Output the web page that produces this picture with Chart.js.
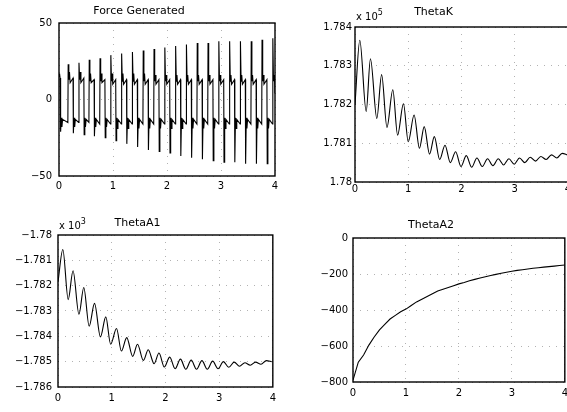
<!DOCTYPE html>
<html>
<head>
<meta charset="utf-8">
<script src="https://cdn.jsdelivr.net/npm/chart.js@4.4.0/dist/chart.umd.min.js"></script>
<style>
  body { margin: 0; background: #fff; overflow: hidden; }
  #wrap { position: relative; width: 567px; height: 412px; overflow: hidden; }
  canvas { position: absolute; }
  .expo { position: absolute; font: 10px "DejaVu Sans", sans-serif; color: #000; white-space: nowrap; }
  .expo sup { font-size: 8px; position: relative; top: -1px; }
</style>
</head>
<body>
<div id="wrap">
  <canvas id="force" width="280" height="199" style="left:3px;top:1px"></canvas>
  <canvas id="thetaK" width="277" height="201" style="left:299px;top:5px"></canvas>
  <canvas id="thetaA1" width="279" height="198" style="left:2px;top:213px"></canvas>
  <canvas id="thetaA2" width="276" height="190" style="left:297px;top:216px"></canvas>
  <div class="expo" style="left:356px;top:9px">x 10<sup>5</sup></div>
  <div class="expo" style="left:59px;top:218px">x 10<sup>3</sup></div>
</div>
<script>
// tick labels
const xTicks = [0, 1, 2, 3, 4];
const forceTicks = [-50, 0, 50];
const thetaKTicks = [1.78, 1.781, 1.782, 1.783, 1.784];
const thetaA1Ticks = [-1.786, -1.785, -1.784, -1.783, -1.782, -1.781, -1.78];
const thetaA2Ticks = [-800, -600, -400, -200, 0];

// Force Generated (one row per cycle)
const forceT = [
  0, 0.01, 0.02, 0.03, 0.042, 0.054, 0.066, 0.164,
  0.17, 0.182, 0.194, 0.206, 0.26, 0.266, 0.278, 0.29, 0.302, 0.364,
  0.37, 0.382, 0.394, 0.406, 0.46, 0.466, 0.478, 0.49, 0.502, 0.554,
  0.56, 0.572, 0.584, 0.596, 0.65, 0.656, 0.668, 0.68, 0.692, 0.754,
  0.76, 0.772, 0.784, 0.796, 0.85, 0.856, 0.868, 0.88, 0.892, 0.954,
  0.96, 0.972, 0.984, 0.996, 1.05, 1.056, 1.068, 1.08, 1.092, 1.154,
  1.16, 1.172, 1.184, 1.196, 1.25, 1.256, 1.268, 1.28, 1.292, 1.354,
  1.36, 1.372, 1.384, 1.396, 1.45, 1.456, 1.468, 1.48, 1.492, 1.554,
  1.56, 1.572, 1.584, 1.596, 1.65, 1.656, 1.668, 1.68, 1.692, 1.754,
  1.76, 1.772, 1.784, 1.796, 1.85, 1.856, 1.868, 1.88, 1.892, 1.954,
  1.96, 1.972, 1.984, 1.996, 2.05, 2.056, 2.068, 2.08, 2.092, 2.154,
  2.16, 2.172, 2.184, 2.196, 2.25, 2.256, 2.268, 2.28, 2.292, 2.354,
  2.36, 2.372, 2.384, 2.396, 2.45, 2.456, 2.468, 2.48, 2.492, 2.554,
  2.56, 2.572, 2.584, 2.596, 2.65, 2.656, 2.668, 2.68, 2.692, 2.754,
  2.76, 2.772, 2.784, 2.796, 2.85, 2.856, 2.868, 2.88, 2.892, 2.954,
  2.96, 2.972, 2.984, 2.996, 3.05, 3.056, 3.068, 3.08, 3.092, 3.154,
  3.16, 3.172, 3.184, 3.196, 3.25, 3.256, 3.268, 3.28, 3.292, 3.354,
  3.36, 3.372, 3.384, 3.396, 3.45, 3.456, 3.468, 3.48, 3.492, 3.554,
  3.56, 3.572, 3.584, 3.596, 3.65, 3.656, 3.668, 3.68, 3.692, 3.754,
  3.76, 3.772, 3.784, 3.796, 3.85, 3.856, 3.868, 3.88, 3.892, 3.954,
  3.96, 3.972, 3.984, 3.996, 4.0
];
const forceV = [
  15, 17, 14, -21, -12, -18, -13, -15,
  23, 13, 18, 11, 14, -22, -12, -18, -13, -15,
  24, 13, 18, 11, 14, -23, -12, -18, -13, -15,
  26, 12, 17, 11, 13, -24, -12, -18, -13, -16,
  27, 12, 17, 11, 13, -25, -12, -18, -13, -16,
  29, 12, 17, 10, 13, -27, -12, -19, -13, -16,
  30, 12, 17, 10, 13, -29, -12, -19, -13, -16,
  31, 12, 17, 10, 13, -31, -12, -19, -13, -16,
  32, 12, 17, 10, 13, -33, -12, -19, -13, -16,
  33, 12, 16, 10, 13, -34, -12, -19, -13, -16,
  34, 12, 16, 10, 13, -35, -12, -19, -13, -16,
  35, 12, 16, 10, 13, -37, -12, -19, -13, -16,
  36, 12, 16, 10, 13, -38, -12, -19, -13, -16,
  37, 12, 16, 10, 13, -39, -12, -19, -13, -16,
  37, 12, 16, 10, 13, -40, -12, -19, -13, -16,
  38, 12, 16, 10, 13, -41, -12, -19, -13, -16,
  38, 12, 16, 10, 13, -41, -12, -19, -13, -16,
  38, 12, 16, 10, 13, -42, -12, -19, -13, -16,
  38, 12, 16, 10, 13, -42, -12, -19, -13, -16,
  39, 12, 16, 10, 13, -42, -12, -19, -13, -16,
  40, 12, 16, 10, 4
];

// ThetaK (x 10^5), turning points
const thetaKT = [0, 0.09, 0.21, 0.29, 0.41, 0.5, 0.6, 0.71, 0.8, 0.91, 1.0, 1.11, 1.21, 1.3, 1.4,
  1.49, 1.59, 1.69, 1.79, 1.89, 1.99, 2.09, 2.19, 2.29, 2.39, 2.49, 2.59, 2.69, 2.79, 2.89,
  2.99, 3.09, 3.19, 3.29, 3.39, 3.49, 3.59, 3.69, 3.79, 3.89, 3.99];
const thetaKV = [1.7820, 1.78366, 1.78182, 1.78318, 1.78164, 1.78277, 1.78141, 1.78238, 1.78121,
  1.78202, 1.78104, 1.78173, 1.78087, 1.78143, 1.78072, 1.78117, 1.78058, 1.78095, 1.7805,
  1.78078, 1.7804, 1.78068, 1.78038, 1.78062, 1.7804, 1.7806, 1.78042, 1.7806, 1.78044,
  1.7806, 1.78046, 1.78062, 1.7805, 1.78064, 1.78054, 1.78066, 1.78058, 1.7807, 1.78062,
  1.78074, 1.7807];

// ThetaA1 (x 10^3), turning points
const thetaA1T = [0, 0.09, 0.19, 0.28, 0.39, 0.48, 0.58, 0.68, 0.79, 0.89, 0.98, 1.09, 1.18, 1.28,
  1.39, 1.48, 1.59, 1.68, 1.79, 1.88, 1.98, 2.08, 2.18, 2.28, 2.38, 2.48, 2.58, 2.68, 2.78,
  2.88, 2.98, 3.08, 3.18, 3.28, 3.38, 3.48, 3.58, 3.68, 3.78, 3.88, 3.98];
const thetaA1V = [-1.78185, -1.78057, -1.78255, -1.78141, -1.78313, -1.78207, -1.7836, -1.7827,
  -1.78402, -1.78323, -1.78431, -1.78369, -1.78458, -1.78405, -1.78479, -1.78431, -1.78495,
  -1.78453, -1.78508, -1.78466, -1.78521, -1.78482, -1.78528, -1.7849, -1.7853, -1.78494,
  -1.7853, -1.78496, -1.7853, -1.78498, -1.78528, -1.785, -1.78522, -1.78502, -1.78518,
  -1.78504, -1.78514, -1.78502, -1.7851, -1.78496, -1.785];

// ThetaA2
const thetaA2T = [0, 0.1, 0.2, 0.3, 0.4, 0.5, 0.6, 0.7, 0.8, 0.9, 1.0, 1.1, 1.2, 1.3, 1.4, 1.5,
  1.6, 1.7, 1.8, 1.9, 2.0, 2.1, 2.2, 2.3, 2.4, 2.5, 2.6, 2.7, 2.8, 2.9, 3.0, 3.1, 3.2, 3.3,
  3.4, 3.5, 3.6, 3.7, 3.8, 3.9, 4.0];
const thetaA2V = [-790, -690, -650, -595, -550, -510, -480, -450, -430, -410, -395, -375, -355,
  -340, -325, -310, -295, -285, -275, -265, -255, -247, -238, -230, -222, -215, -208, -202,
  -196, -190, -185, -180, -176, -172, -168, -165, -162, -159, -156, -153, -150];

Chart.defaults.font.family = '"DejaVu Sans", sans-serif';
Chart.defaults.font.size = 10;
Chart.defaults.color = '#000';

// black frame round the plot area
const boxPlugin = {
  id: 'box',
  afterDatasetsDraw(chart) {
    const a = chart.chartArea;
    const ctx = chart.ctx;
    ctx.save();
    ctx.strokeStyle = '#000';
    ctx.lineWidth = 1.4;
    ctx.strokeRect(a.left, a.top, a.right - a.left, a.bottom - a.top);
    ctx.restore();
  }
};

function fmt(v) {
  return String(Number(v.toFixed(3))).replace('-', '\u2212');
}

function toPoints(xs, ys) {
  return xs.map((x, i) => ({ x: x, y: ys[i] }));
}

function makePanel(id, title, titleTop, xs, ys, yTicks, smooth, yPad, xPad) {
  const ctx = document.getElementById(id).getContext('2d');
  return new Chart(ctx, {
    type: 'line',
    data: {
      datasets: [{
        data: toPoints(xs, ys),
        borderColor: '#000',
        borderWidth: 1.1,
        pointRadius: 0,
        fill: false,
        cubicInterpolationMode: smooth ? 'monotone' : 'default',
        tension: 0
      }]
    },
    plugins: [boxPlugin],
    options: {
      responsive: false,
      animation: false,
      events: [],
      layout: { padding: { left: 0, right: 8, top: 0, bottom: 4 } },
      plugins: {
        legend: { display: false },
        tooltip: { enabled: false },
        title: {
          display: true,
          text: title,
          font: { size: 11, weight: 'normal' },
          color: '#000',
          padding: { top: titleTop, bottom: 8.8 - titleTop }
        }
      },
      scales: {
        x: {
          type: 'linear',
          min: xTicks[0],
          max: xTicks[xTicks.length - 1],
          afterBuildTicks: (axis) => { axis.ticks = xTicks.map(v => ({ value: v })); },
          afterFit: (axis) => { axis.height = 20; },
          ticks: { padding: xPad, autoSkip: false, maxRotation: 0, callback: (v) => fmt(v) },
          grid: { color: 'rgba(0,0,0,0.3)', lineWidth: 1, drawTicks: false },
          border: { display: false, dash: [1, 6] }
        },
        y: {
          type: 'linear',
          min: yTicks[0],
          max: yTicks[yTicks.length - 1],
          afterBuildTicks: (axis) => { axis.ticks = yTicks.map(v => ({ value: v })); },
          afterFit: (axis) => { axis.width = 56; },
          ticks: { padding: yPad, autoSkip: false, callback: (v) => fmt(v) },
          grid: { color: 'rgba(0,0,0,0.3)', lineWidth: 1, drawTicks: false },
          border: { display: false, dash: [1, 6] }
        }
      }
    }
  });
}

makePanel('force', 'Force Generated', 3.4, forceT, forceV, forceTicks, false, 7, 4);
makePanel('thetaK', 'ThetaK', 0.4, thetaKT, thetaKV, thetaKTicks, true, 3, 1);
makePanel('thetaA1', 'ThetaA1', 3.4, thetaA1T, thetaA1V, thetaA1Ticks, true, 6, 5);
makePanel('thetaA2', 'ThetaA2', 2.4, thetaA2T, thetaA2V, thetaA2Ticks, false, 5, 5);
</script>
</body>
</html>
